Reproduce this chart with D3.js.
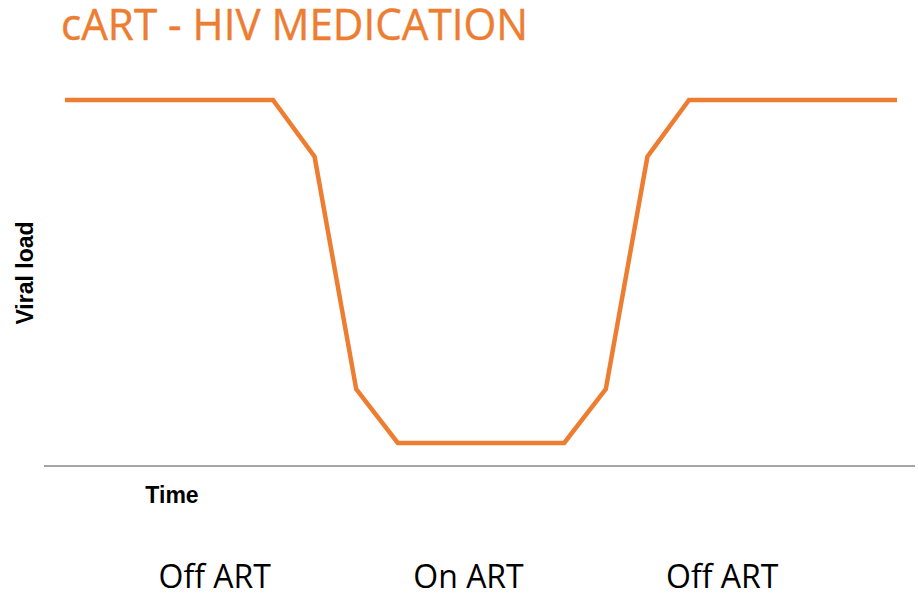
<!DOCTYPE html>
<meta charset="utf-8">
<script src="https://d3js.org/d3.v7.min.js"></script>
<style>
  body { margin: 0; background: #fff; }
</style>
<div id="my_dataviz"></div>
<script>

  // data
  var time = [0, 25, 30, 35, 40, 60, 65, 70, 75, 100];
  var viralLoad = [100, 100, 84.5, 21, 6.3, 6.3, 21, 84.5, 100, 100];
  var phases = ["Off ART", "On ART", "Off ART"];
  var phaseCentres = [18, 48.5, 79];

  var width = 918, height = 593;
  var orange = "#ED7D31";

  var svg = d3.select("#my_dataviz")
    .append("svg")
      .attr("width", width)
      .attr("height", height)
      .style("font-family", "'Open Sans', sans-serif");

  // scales
  var x = d3.scaleLinear().domain([0, 100]).range([65, 897]);
  var y = d3.scaleLinear().domain([0, 100]).range([466, 100]);

  // title
  svg.append("text")
    .attr("x", 61)
    .attr("y", 40)
    .attr("textLength", 467)
    .attr("lengthAdjust", "spacingAndGlyphs")
    .style("font-size", "43px")
    .style("fill", orange)
    .style("stroke", orange)
    .style("stroke-width", 0.4)
    .text("cART - HIV MEDICATION");

  // x axis baseline
  svg.append("line")
    .attr("x1", 44).attr("x2", 915)
    .attr("y1", y(0)).attr("y2", y(0))
    .style("stroke", "#a6a6a6")
    .style("stroke-width", 2);

  // the curve
  var pts = time.map(function(t, i) { return [x(t), y(viralLoad[i])]; });
  svg.append("path")
    .attr("d", d3.line()(pts))
    .style("fill", "none")
    .style("stroke", orange)
    .style("stroke-width", 4.5)
    .style("stroke-linejoin", "miter");

  // axis titles
  svg.append("text")
    .attr("transform", "translate(33,273) rotate(-90)")
    .style("text-anchor", "middle")
    .style("font-family", "'Liberation Sans', Arial, sans-serif")
    .style("font-weight", "bold")
    .style("font-size", "23px")
    .text("Viral load");

  svg.append("text")
    .attr("x", 172)
    .attr("y", 503)
    .style("text-anchor", "middle")
    .style("font-family", "'Liberation Sans', Arial, sans-serif")
    .style("font-weight", "bold")
    .style("font-size", "23px")
    .text("Time");

  // phase labels
  svg.selectAll("phaseLabel")
    .data(phases)
    .enter()
    .append("text")
      .attr("x", function(d, i) { return x(phaseCentres[i]); })
      .attr("y", 588)
      .style("text-anchor", "middle")
      .style("font-size", "32px")
      .style("fill", "#000")
      .text(function(d) { return d; });

</script>
